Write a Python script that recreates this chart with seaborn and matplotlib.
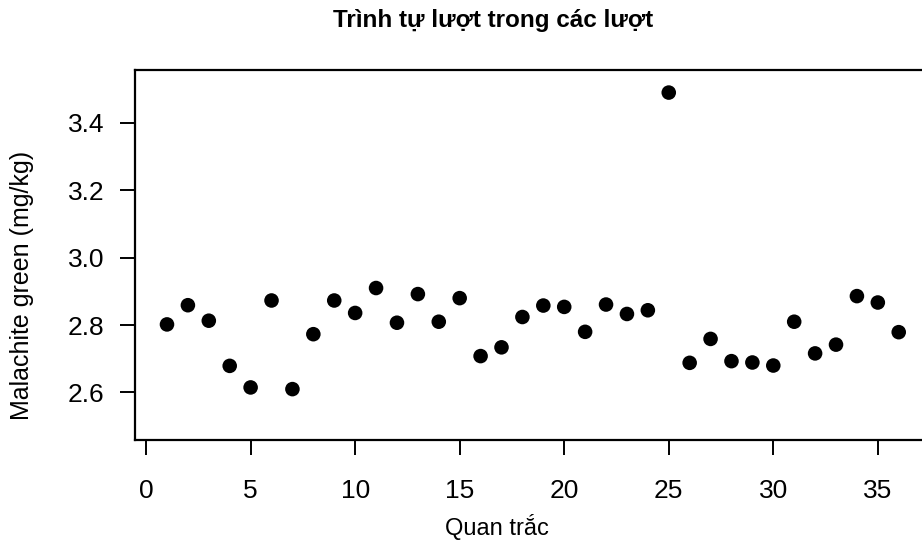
import matplotlib
matplotlib.use("Agg")
import matplotlib.pyplot as plt
import seaborn as sns
import pandas as pd

observations = list(range(1, 37))
malachite = [2.802, 2.859, 2.813, 2.679, 2.615, 2.873, 2.610, 2.773, 2.873, 2.836,
             2.910, 2.807, 2.892, 2.810, 2.880, 2.708, 2.734, 2.824, 2.858, 2.854,
             2.780, 2.861, 2.833, 2.844, 3.490, 2.688, 2.759, 2.693, 2.689, 2.680,
             2.810, 2.716, 2.742, 2.886, 2.867, 2.779]
x_ticks = [0, 5, 10, 15, 20, 25, 30, 35]
y_ticks = [2.6, 2.8, 3.0, 3.2, 3.4]

sns.set_theme(style="white")
plt.rcParams['font.family'] = ['Liberation Sans', 'DejaVu Sans']

df = pd.DataFrame({"obs": observations, "val": malachite})

fig = plt.figure(figsize=(9.22, 5.48), dpi=100)
ax = fig.add_axes([135/922, 1 - 440/548, (928 - 135)/922, (440 - 70)/548])

sns.scatterplot(data=df, x="obs", y="val", ax=ax, color="black", s=110,
                edgecolor="none", linewidth=0)

ax.set_xlim(-0.53, 37.4)
ax.set_ylim(2.459, 3.557)
ax.set_xticks(x_ticks)
ax.set_xticklabels([str(t) for t in x_ticks])
ax.set_yticks(y_ticks)
ax.set_yticklabels([f"{t:.1f}" for t in y_ticks])

for sp in ax.spines.values():
    sp.set_visible(True)
    sp.set_color("black")
    sp.set_linewidth(1.6)

ax.tick_params(axis="both", which="major", direction="out", length=11, width=1.4,
               color="black", labelsize=19, labelcolor="black",
               bottom=True, left=True, top=False, right=False)
ax.tick_params(axis="y", pad=11)
ax.tick_params(axis="x", pad=17)

ax.set_xlabel("")
ax.set_ylabel("")
fig.text(497/922, 1 - 527/548, "Quan trắc", ha="center", va="center",
         fontsize=17, color="black")
fig.text(22/922, 1 - 285/548, "Malachite green (mg/kg)", ha="center", va="center",
         rotation=90, fontsize=18, color="black")
fig.text(493/922, 1 - 21/548, "Trình tự lượt trong các lượt", ha="center", va="center",
         fontsize=17.5, fontweight="bold", color="black")

fig.savefig("out.png", dpi=100, facecolor="white")
